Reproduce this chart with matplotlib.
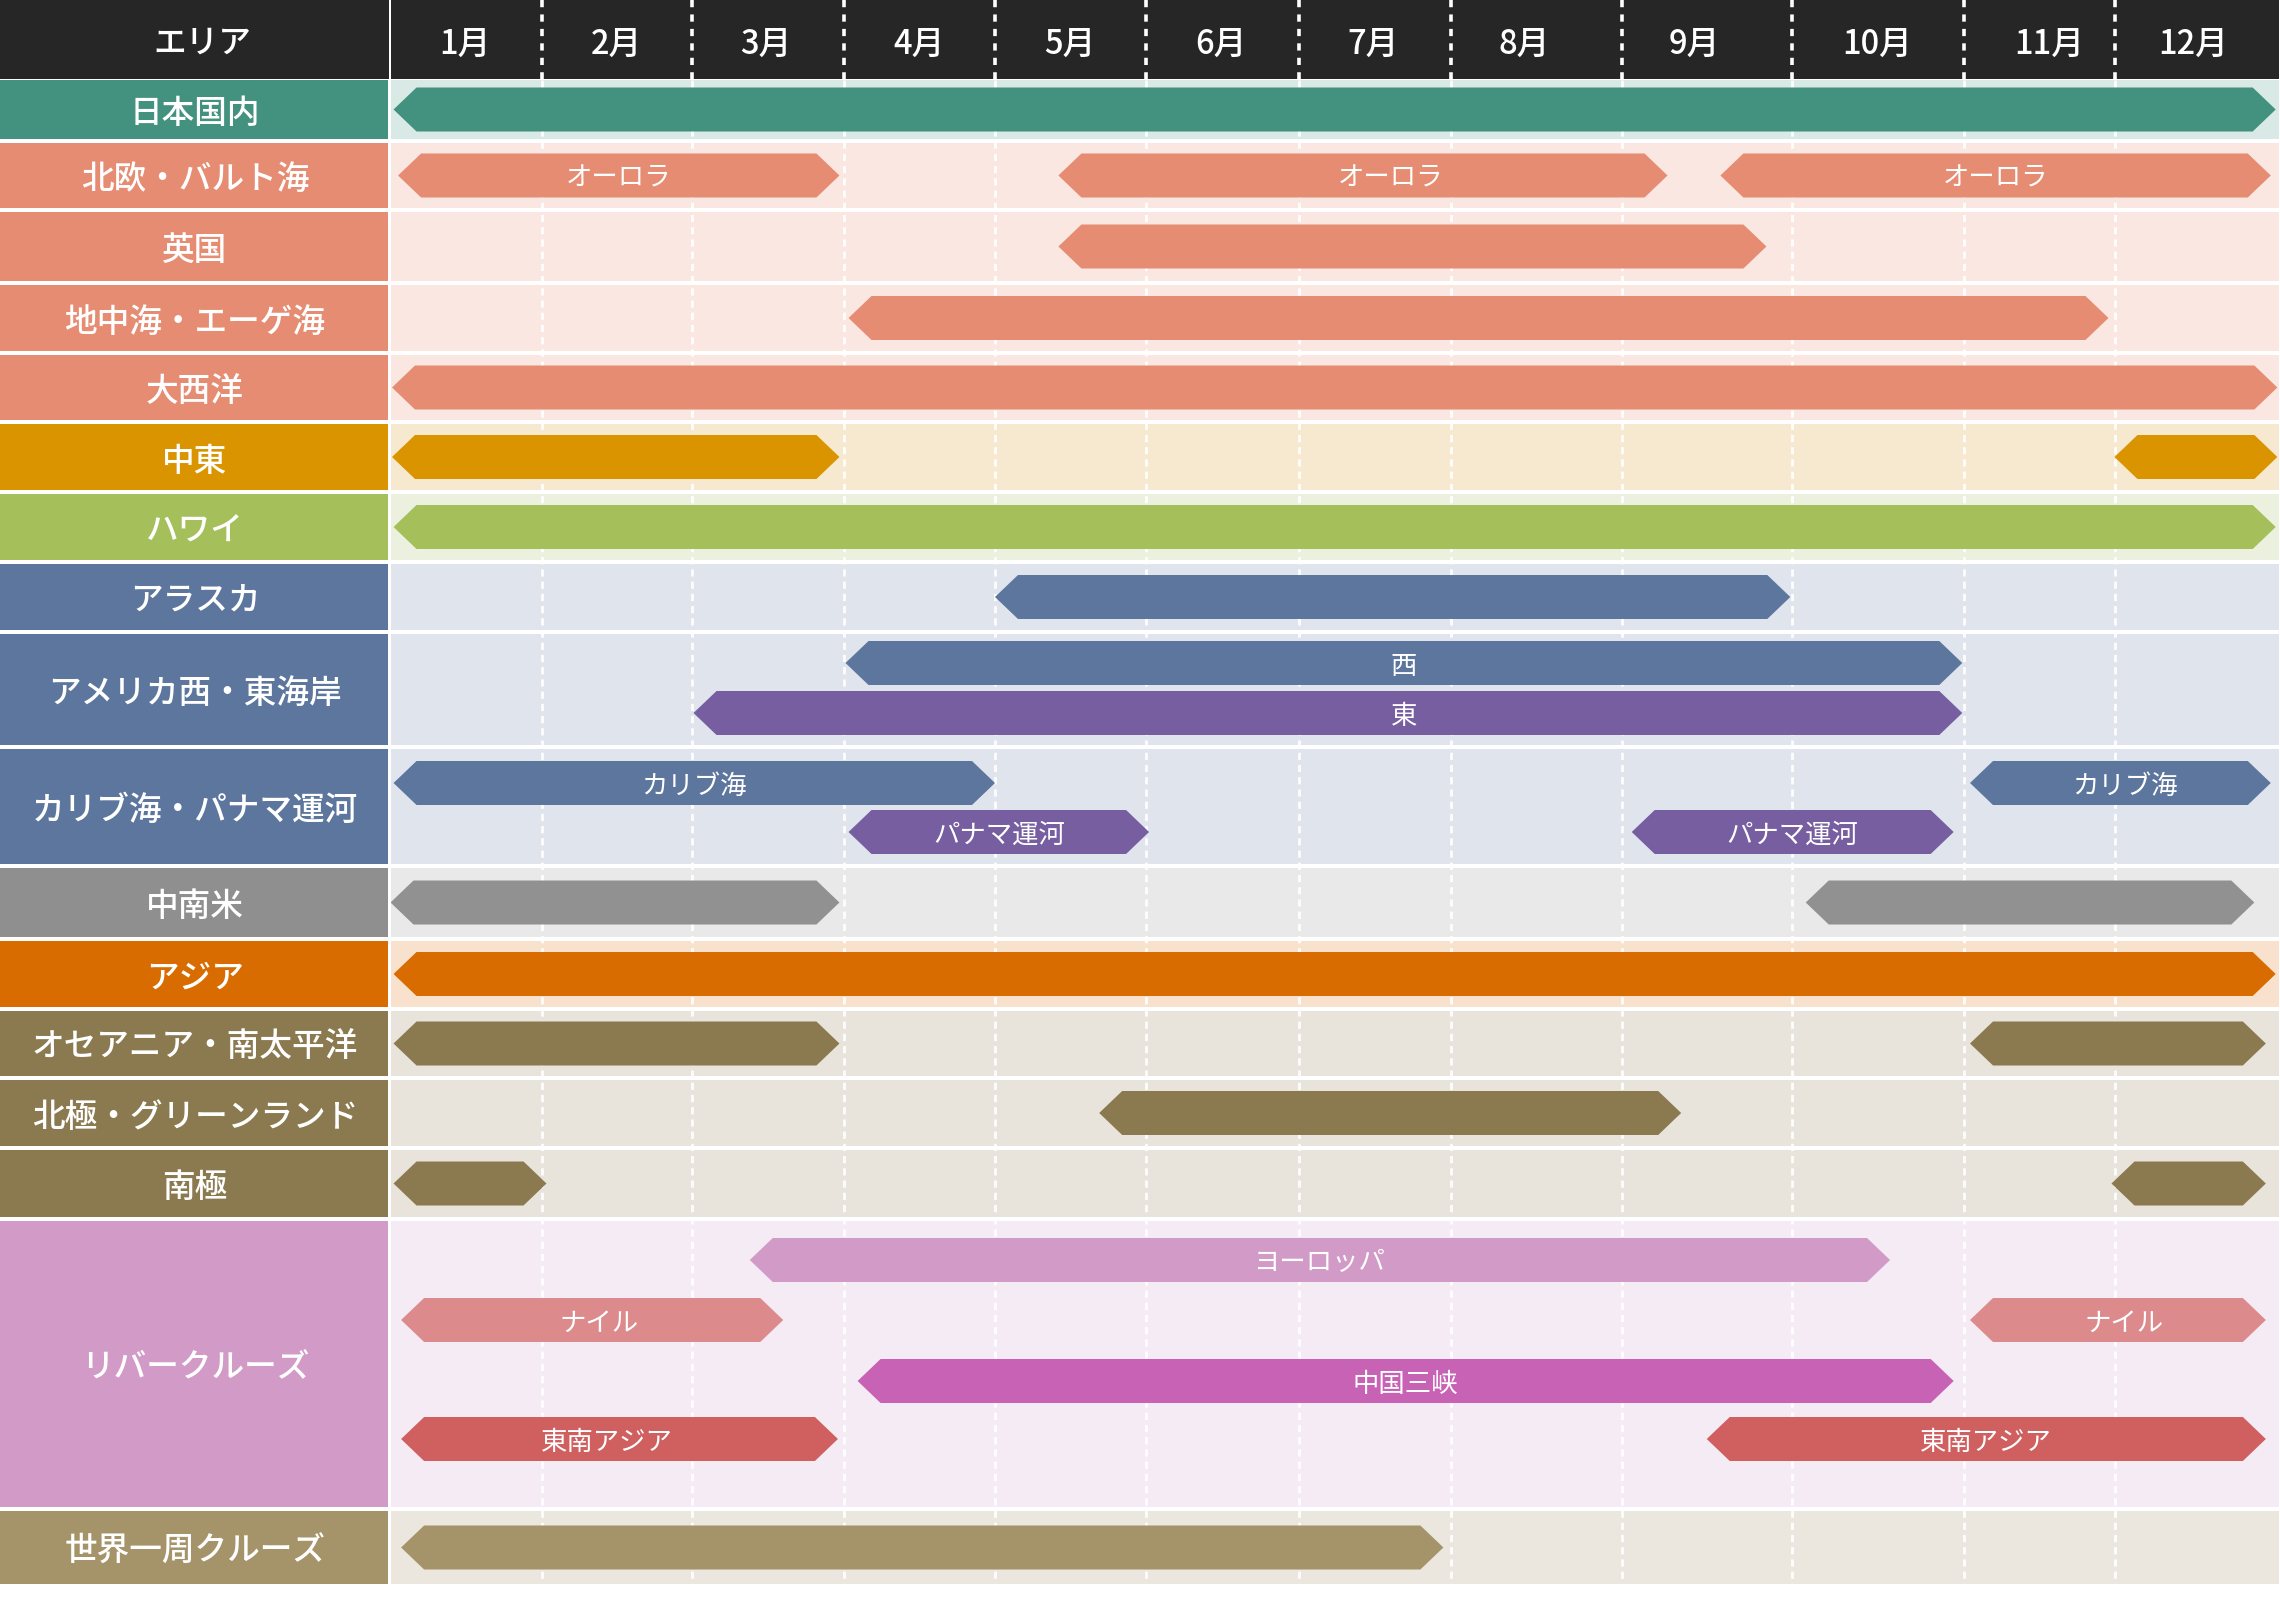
import numpy as np
import matplotlib
matplotlib.use("Agg")
import matplotlib.pyplot as plt
from matplotlib.patches import Polygon, Rectangle

plt.rcParams['font.family'] = ['Noto Sans CJK JP', 'DejaVu Sans']

# ---------------- data ----------------
header_area = 'エリア'
months = ['1月', '2月', '3月', '4月', '5月', '6月',
          '7月', '8月', '9月', '10月', '11月', '12月']

areas = ['日本国内', '北欧・バルト海', '英国', '地中海・エーゲ海', '大西洋',
         '中東', 'ハワイ', 'アラスカ', 'アメリカ西・東海岸', 'カリブ海・パナマ運河',
         '中南米', 'アジア', 'オセアニア・南太平洋', '北極・グリーンランド', '南極',
         'リバークルーズ', '世界一周クルーズ']

# season bars (start / end in months from 1 Jan, 0..12)
bar_area = [0, 1, 1, 1, 2, 3, 4, 5, 5, 6, 7, 8, 8, 9, 9, 9, 9,
            10, 10, 11, 12, 12, 13, 14, 14, 15, 15, 15, 15, 15, 15, 16]
bar_lane = [0, 0, 0, 0, 0, 0, 0, 0, 0, 0, 0, 0, 1, 0, 0, 1, 1,
            0, 0, 0, 0, 0, 0, 0, 0, 0, 1, 1, 2, 3, 3, 0]
bar_start = [0.02, 0.05, 4.42, 8.58, 4.42, 3.03, 0.01, 0.01, 11.0, 0.02, 4.0,
             3.01, 2.01, 0.02, 10.04, 3.03, 8.06, 0.0, 9.08, 0.02, 0.02, 10.04,
             4.69, 0.02, 10.98, 2.38, 0.07, 10.04, 3.09, 0.07, 8.5, 0.07]
bar_end = [11.98, 2.97, 8.27, 11.95, 8.85, 10.96, 11.99, 2.97, 11.99, 11.98, 8.99,
           9.99, 9.99, 4.0, 11.95, 5.02, 9.94, 2.97, 11.85, 11.98, 2.97, 11.92,
           8.35, 1.03, 11.92, 9.57, 2.6, 11.92, 9.94, 2.96, 11.92, 6.95]
bar_label = ['', 'オーロラ', 'オーロラ', 'オーロラ', '', '', '', '', '', '', '',
             '西', '東', 'カリブ海', 'カリブ海', 'パナマ運河', 'パナマ運河',
             '', '', '', '', '', '', '', '',
             'ヨーロッパ', 'ナイル', 'ナイル', '中国三峡', '東南アジア', '東南アジア', '']
# label position in months (None = centred on the bar)
bar_label_x = [None, None, 6.6, None, None, None, None, None, None, None, None,
               None, 6.69, None, 11.06, None, None,
               None, None, None, None, None, None, None, None,
               None, 1.38, 11.06, None, 1.43, None, None]

# ---------------- styles ----------------
label_colors = ['#43917f', '#e68c72', '#e68c72', '#e68c72', '#e68c72',
                '#d99400', '#a5bf5b', '#5d769e', '#5d769e', '#5d769e',
                '#8f8f8f', '#d96c00', '#8b7a50', '#8b7a50', '#8b7a50',
                '#d29bc7', '#a59369']
row_bg = ['#d9eae6', '#fae7e1', '#fae7e1', '#fae7e1', '#fae7e1',
          '#f6e9cf', '#ecf1df', '#e0e4ec', '#e0e4ec', '#e0e4ec',
          '#e9e9e9', '#f8e2ce', '#e8e4dc', '#e8e4dc', '#e8e4dc',
          '#f5ebf4', '#ebe7de']
bar_colors = ['#43917f', '#e68c72', '#e68c72', '#e68c72', '#e68c72', '#e68c72',
              '#e68c72', '#d99400', '#d99400', '#a5bf5b', '#5d769e',
              '#5d769e', '#765ea0', '#5d769e', '#5d769e', '#765ea0', '#765ea0',
              '#919191', '#919191', '#d96c00', '#8b7a50', '#8b7a50',
              '#8b7a50', '#8b7a50', '#8b7a50',
              '#d29bc7', '#dc8a8b', '#dc8a8b', '#c762b4', '#d05f5f', '#d05f5f',
              '#a59369']

# layout (pixels on a 2280 x 1609 canvas)
W, H = 2280, 1609
label_w = 390.5
col_edges = [390.5, 542, 692, 844, 995, 1146, 1298.5, 1451, 1621.5,
             1792, 1964, 2114.5, 2279]
month_label_px = [465, 616.5, 766, 919, 1070, 1221, 1372.6, 1524, 1694, 1877, 2049, 2193]
header_label_px = 202
header_h = 79
row_gap = 4
row_heights = [59, 65, 69, 66, 65, 66, 66, 66, 111, 115, 69, 66, 65, 66, 67, 286, 73]
lane_offsets = {8: [29, 79], 9: [34, 83], 15: [39, 99, 160, 218]}
bar_h = 44
tip = 23
txt_dy = 4

row_tops = []
y = header_h + 1
for h in row_heights:
    row_tops.append(y)
    y += h + row_gap

month_idx = np.arange(13, dtype=float)


def fwd(m):
    return np.interp(m, month_idx, col_edges)


def inv(p):
    return np.interp(p, col_edges, month_idx)


fig = plt.figure(figsize=(W / 100, H / 100), dpi=100)
fig.patch.set_facecolor('white')

ax_l = fig.add_axes([0, 0, label_w / W, 1])
ax_l.set_xlim(0, label_w)
ax_l.set_ylim(H, 0)
ax_l.axis('off')

ax = fig.add_axes([col_edges[0] / W, 0, (col_edges[-1] - col_edges[0]) / W, 1])
ax.set_xscale('function', functions=(fwd, inv))
ax.set_xlim(0, 12)
ax.set_ylim(H, 0)
ax.axis('off')

# header
ax_l.add_patch(Rectangle((0, 0), label_w - 2, header_h, color='#262626', lw=0))
ax_l.text(header_label_px, header_h / 2 + txt_dy, header_area, color='white',
          ha='center', va='center', fontsize=23.5, fontweight='medium')
ax.add_patch(Rectangle((0, 0), 12, header_h, color='#262626', lw=0))
for i, m in enumerate(months):
    ax.text(inv(month_label_px[i]), header_h / 2 + txt_dy + 1, m, color='white',
            ha='center', va='center', fontsize=23.5, fontweight='medium')
for i in range(1, 12):
    ax.plot([i, i], [0, header_h], color='white', lw=2.6,
            linestyle=(0, (2.0, 2.0)), solid_capstyle='butt', zorder=3)

# rows
for r, name in enumerate(areas):
    top, h = row_tops[r], row_heights[r]
    ax_l.add_patch(Rectangle((0, top), label_w - 2.5, h, color=label_colors[r], lw=0))
    ax_l.text((label_w - 2.5) / 2 + 1, top + h / 2 + txt_dy, name, color='white',
              ha='center', va='center', fontsize=23.5, fontweight='medium')
    ax.add_patch(Rectangle((0, top), 12, h, color=row_bg[r], lw=0, zorder=0))

# dashed month dividers in the body
body_bottom = row_tops[-1] + row_heights[-1]
for i in range(1, 12):
    ax.plot([i, i], [header_h + 1, body_bottom], color='white', lw=2.0, alpha=0.95,
            linestyle=(0, (2.6, 1.8)), solid_capstyle='butt', zorder=1)

# bars
for k in range(len(bar_area)):
    r = bar_area[k]
    top = row_tops[r]
    if r in lane_offsets:
        yc = top + lane_offsets[r][bar_lane[k]]
    else:
        yc = top + row_heights[r] / 2
    xs, xe = fwd(bar_start[k]), fwd(bar_end[k])
    px = [xs, xs + tip, xe - tip, xe, xe - tip, xs + tip]
    py = [yc, yc - bar_h / 2, yc - bar_h / 2, yc, yc + bar_h / 2, yc + bar_h / 2]
    verts = np.column_stack([inv(np.array(px)), py])
    ax.add_patch(Polygon(verts, closed=True, facecolor=bar_colors[k],
                         edgecolor='none', zorder=2))
    if bar_label[k]:
        xm = bar_label_x[k] if bar_label_x[k] is not None else inv((xs + xe) / 2)
        ax.text(xm, yc + 3, bar_label[k], color='white', ha='center', va='center',
                fontsize=19, zorder=4)

fig.savefig('out.png', dpi=100, facecolor='white')
